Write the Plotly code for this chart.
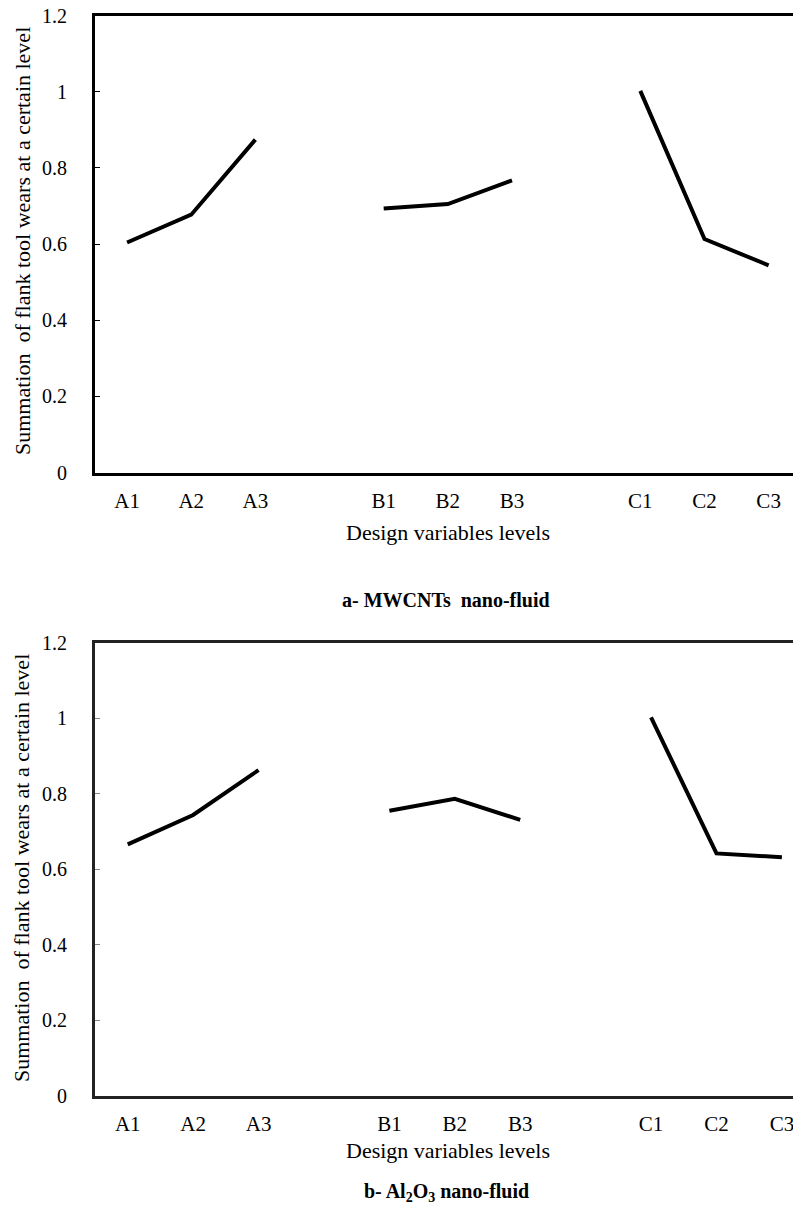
import plotly.graph_objects as go

categories = ["A1", "A2", "A3", " ", "B1", "B2", "B3", "  ", "C1", "C2", "C3"]
tick_labels = ["A1", "A2", "A3", "B1", "B2", "B3", "C1", "C2", "C3"]
groups = {"A": ["A1", "A2", "A3"], "B": ["B1", "B2", "B3"], "C": ["C1", "C2", "C3"]}

mwcnt_A = [0.604, 0.677, 0.874]
mwcnt_B = [0.693, 0.705, 0.767]
mwcnt_C = [1.002, 0.613, 0.544]

al2o3_A = [0.666, 0.744, 0.863]
al2o3_B = [0.755, 0.787, 0.731]
al2o3_C = [1.003, 0.642, 0.632]

y_ticks = [0, 0.2, 0.4, 0.6, 0.8, 1, 1.2]
y_ticktext = ["0", "0.2", "0.4", "0.6", "0.8", "1", "1.2"]

y_title = "Summation  of flank tool wears at a certain level"
x_title = "Design variables levels"
cap_a = "<b>a- MWCNTs  nano-fluid</b>"
cap_b = "<b>b- Al<sub>2</sub>O<sub>3</sub> nano-fluid</b>"

W, H = 793, 1215
L = 95
FONT = "Liberation Serif"

fig = go.Figure()
for vals, g in zip([mwcnt_A, mwcnt_B, mwcnt_C], ["A", "B", "C"]):
    fig.add_trace(go.Scatter(x=groups[g], y=vals, mode="lines", line=dict(color="black", width=4),
                             xaxis="x", yaxis="y", showlegend=False))
for vals, g in zip([al2o3_A, al2o3_B, al2o3_C], ["A", "B", "C"]):
    fig.add_trace(go.Scatter(x=groups[g], y=vals, mode="lines", line=dict(color="black", width=4),
                             xaxis="x2", yaxis="y2", showlegend=False))

def py(p):
    return 1 - p / H

def px(p):
    return (p - L) / (W - L)

common_x = dict(type="category", categoryorder="array", categoryarray=categories,
                tickmode="array", tickvals=tick_labels, ticktext=tick_labels,
                showline=True, mirror=True, showgrid=False, zeroline=False, ticks="",
                automargin=False,
                tickfont=dict(family=FONT, size=21, color="black"), ticklabelstandoff=7)
common_y = dict(range=[0, 1.2], tickvals=y_ticks, ticktext=y_ticktext, showline=True, mirror=False,
                showgrid=False, zeroline=False, ticks="inside", ticklen=5, tickwidth=1,
                automargin=False,
                tickfont=dict(family=FONT, size=20, color="black"), ticklabelstandoff=21)

fig.update_layout(
    width=W, height=H,
    margin=dict(l=L, r=0, t=0, b=0, autoexpand=False),
    paper_bgcolor="white", plot_bgcolor="white",
    xaxis=dict(common_x, domain=[0, 1], anchor="y", range=[-0.5, 10.38],
               linecolor="black", linewidth=3),
    yaxis=dict(common_y, domain=[py(472.5), py(15.5)], anchor="x",
               linecolor="black", linewidth=3, tickcolor="black"),
    xaxis2=dict(common_x, domain=[0, 1], anchor="y2", range=[-0.5, 10.17],
                linecolor="#222222", linewidth=3),
    yaxis2=dict(common_y, domain=[py(1095.5), py(643)], anchor="x2",
                linecolor="#222222", linewidth=3, tickcolor="#888888"),
)

ann = []
for yc, ycap, ymid, cap in [(532, 600, 241, cap_a), (1150, 1192, 868, cap_b)]:
    ann.append(dict(text=x_title, x=px(448), y=py(yc), xref="paper", yref="paper",
                    showarrow=False, font=dict(family=FONT, size=22, color="black"),
                    xanchor="center", yanchor="middle"))
    ann.append(dict(text=cap, x=px(446), y=py(ycap), xref="paper", yref="paper",
                    showarrow=False, font=dict(family=FONT, size=20, color="black"),
                    xanchor="center", yanchor="middle"))
    ann.append(dict(text=y_title, x=px(22), y=py(ymid), xref="paper", yref="paper", textangle=-90,
                    showarrow=False, font=dict(family=FONT, size=22, color="black"),
                    xanchor="center", yanchor="middle"))
fig.update_layout(annotations=ann)

fig.write_html("out.html")
